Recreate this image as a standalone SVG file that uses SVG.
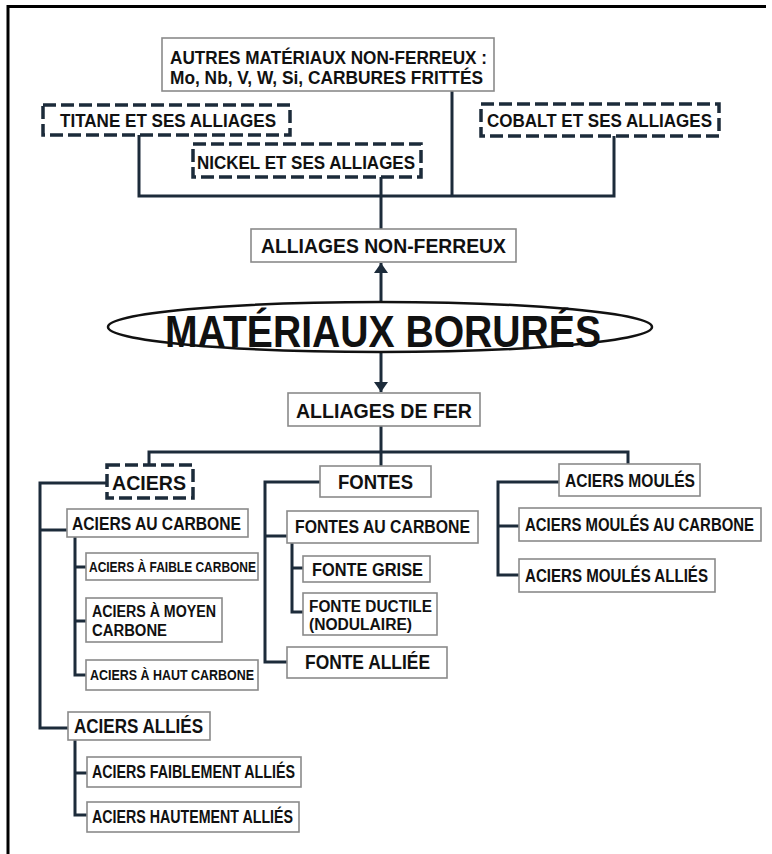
<svg xmlns="http://www.w3.org/2000/svg" width="772" height="854" viewBox="0 0 772 854">
<style>
.bx{fill:#fff;stroke:#8a8a8a;stroke-width:1.6}
.db{fill:#fff;stroke:#1c2b3a;stroke-width:3.5;stroke-dasharray:13 5}
.t{font-family:"Liberation Sans Narrow","Liberation Sans",Arial,sans-serif;font-weight:bold;fill:#111}
.cn{fill:none;stroke:#1c2b3a;stroke-width:3}
</style>
<defs>
<marker id="ah" viewBox="0 0 10 14" refX="10" refY="7" markerWidth="10" markerHeight="14" markerUnits="userSpaceOnUse" orient="auto">
<path d="M0,0 L10,7 L0,14 z" fill="#1c2b3a"/>
</marker>
</defs>
<rect width="772" height="854" fill="#fff"/>
<path d="M8,854 V6.5 H766" fill="none" stroke="#000" stroke-width="3"/>

<g id="connectors">
<path class="cn" d="M139,135 V196 H614 V135"/>
<path class="cn" d="M452,91 V196"/>
<path class="cn" d="M381,177 V229"/>
<path class="cn" d="M381,302 V263" marker-end="url(#ah)"/>
<path class="cn" d="M381,352 V392" marker-end="url(#ah)"/>
<path class="cn" d="M381,426 V466"/>
<path class="cn" d="M149,466 V452 H628 V464"/>
<path class="cn" d="M107,483 H40 V728 H68"/>
<path class="cn" d="M40,530 H68"/>
<path class="cn" d="M75,537 V675 H86"/>
<path class="cn" d="M75,567 H86 M75,621 H86"/>
<path class="cn" d="M75,740 V815 H88 M75,773 H88"/>
<path class="cn" d="M320,482 H265 V662 H288 M265,536 H288"/>
<path class="cn" d="M292,543 V612 H304 M292,568 H304"/>
<path class="cn" d="M559,482 H498 V575 H520 M498,526 H520"/>
</g>

<g id="autres">
<rect class="bx" x="162" y="38" width="332" height="53"/>
<text class="t" x="170" y="64" font-size="18" textLength="317" lengthAdjust="spacingAndGlyphs">AUTRES MATÉRIAUX NON-FERREUX :</text>
<text class="t" x="170" y="84" font-size="18" textLength="313" lengthAdjust="spacingAndGlyphs">Mo, Nb, V, W, Si, CARBURES FRITTÉS</text>
</g>
<g id="titane">
<rect class="db" x="43" y="105" width="247" height="30"/>
<text class="t" x="60" y="127" font-size="18" textLength="216" lengthAdjust="spacingAndGlyphs">TITANE ET SES ALLIAGES</text>
</g>
<g id="nickel">
<rect class="db" x="193" y="144" width="228" height="33"/>
<text class="t" x="197" y="169" font-size="18" textLength="218" lengthAdjust="spacingAndGlyphs">NICKEL ET SES ALLIAGES</text>
</g>
<g id="cobalt">
<rect class="db" x="481" y="104" width="238" height="32"/>
<text class="t" x="487" y="127" font-size="18" textLength="225" lengthAdjust="spacingAndGlyphs">COBALT ET SES ALLIAGES</text>
</g>
<g id="non-ferreux">
<rect class="bx" x="251" y="229" width="265" height="33"/>
<text class="t" x="261" y="253" font-size="21" textLength="245" lengthAdjust="spacingAndGlyphs">ALLIAGES NON-FERREUX</text>
</g>
<g id="materiaux">
<ellipse cx="380" cy="327" rx="272" ry="25" fill="#fff" stroke="#111" stroke-width="2.5"/>
<text class="t" x="165" y="347" font-size="44" textLength="436" lengthAdjust="spacingAndGlyphs">MATÉRIAUX BORURÉS</text>
</g>
<g id="fer">
<rect class="bx" x="288" y="393" width="192" height="33"/>
<text class="t" x="296" y="418" font-size="21" textLength="176" lengthAdjust="spacingAndGlyphs">ALLIAGES DE FER</text>
</g>
<g id="aciers">
<rect class="db" x="107" y="465" width="86" height="33"/>
<text class="t" x="112" y="490" font-size="21" textLength="74" lengthAdjust="spacingAndGlyphs">ACIERS</text>
</g>
<g id="aciers-carbone">
<rect class="bx" x="67" y="509" width="181" height="28"/>
<text class="t" x="72" y="530" font-size="19" textLength="169" lengthAdjust="spacingAndGlyphs">ACIERS AU CARBONE</text>
</g>
<g id="faible">
<rect class="bx" x="86" y="553" width="172" height="27"/>
<text class="t" x="89" y="572" font-size="15" textLength="167" lengthAdjust="spacingAndGlyphs">ACIERS À FAIBLE CARBONE</text>
</g>
<g id="moyen">
<rect class="bx" x="86" y="598" width="136" height="44"/>
<text class="t" x="92" y="617" font-size="16" textLength="124" lengthAdjust="spacingAndGlyphs">ACIERS À MOYEN</text>
<text class="t" x="92" y="636" font-size="16" textLength="75" lengthAdjust="spacingAndGlyphs">CARBONE</text>
</g>
<g id="haut">
<rect class="bx" x="86" y="660" width="172" height="30"/>
<text class="t" x="90" y="680" font-size="15" textLength="164" lengthAdjust="spacingAndGlyphs">ACIERS À HAUT CARBONE</text>
</g>
<g id="allies">
<rect class="bx" x="68" y="712" width="142" height="28"/>
<text class="t" x="74" y="733" font-size="20" textLength="129" lengthAdjust="spacingAndGlyphs">ACIERS ALLIÉS</text>
</g>
<g id="faiblement">
<rect class="bx" x="87" y="757" width="214" height="30"/>
<text class="t" x="92" y="778" font-size="18" textLength="203" lengthAdjust="spacingAndGlyphs">ACIERS FAIBLEMENT ALLIÉS</text>
</g>
<g id="hautement">
<rect class="bx" x="87" y="802" width="212" height="30"/>
<text class="t" x="92" y="823" font-size="18" textLength="201" lengthAdjust="spacingAndGlyphs">ACIERS HAUTEMENT ALLIÉS</text>
</g>
<g id="fontes">
<rect class="bx" x="320" y="466" width="111" height="31"/>
<text class="t" x="338" y="489" font-size="21" textLength="75" lengthAdjust="spacingAndGlyphs">FONTES</text>
</g>
<g id="fontes-carbone">
<rect class="bx" x="287" y="511" width="191" height="32"/>
<text class="t" x="295" y="533" font-size="19" textLength="175" lengthAdjust="spacingAndGlyphs">FONTES AU CARBONE</text>
</g>
<g id="grise">
<rect class="bx" x="303" y="556" width="127" height="26"/>
<text class="t" x="312" y="576" font-size="19" textLength="111" lengthAdjust="spacingAndGlyphs">FONTE GRISE</text>
</g>
<g id="ductile">
<rect class="bx" x="303" y="593" width="134" height="42"/>
<text class="t" x="309" y="612" font-size="16" textLength="123" lengthAdjust="spacingAndGlyphs">FONTE DUCTILE</text>
<text class="t" x="309" y="630" font-size="16" textLength="103" lengthAdjust="spacingAndGlyphs">(NODULAIRE)</text>
</g>
<g id="alliee">
<rect class="bx" x="287" y="647" width="160" height="31"/>
<text class="t" x="305" y="669" font-size="20" textLength="125" lengthAdjust="spacingAndGlyphs">FONTE ALLIÉE</text>
</g>
<g id="moules">
<rect class="bx" x="559" y="464" width="141" height="32"/>
<text class="t" x="565" y="487" font-size="19" textLength="130" lengthAdjust="spacingAndGlyphs">ACIERS MOULÉS</text>
</g>
<g id="moules-carbone">
<rect class="bx" x="519" y="508" width="242" height="33"/>
<text class="t" x="525" y="531" font-size="18" textLength="229" lengthAdjust="spacingAndGlyphs">ACIERS MOULÉS AU CARBONE</text>
</g>
<g id="moules-allies">
<rect class="bx" x="519" y="559" width="196" height="33"/>
<text class="t" x="525" y="582" font-size="19" textLength="183" lengthAdjust="spacingAndGlyphs">ACIERS MOULÉS ALLIÉS</text>
</g>
</svg>
